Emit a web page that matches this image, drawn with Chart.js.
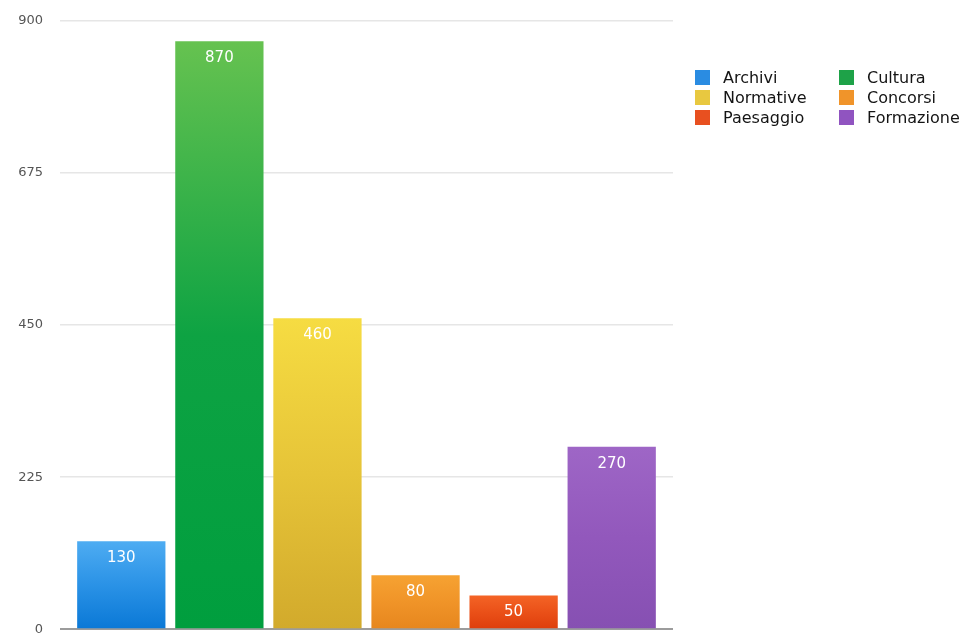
<!DOCTYPE html>
<html>
<head>
<meta charset="utf-8">
<title>Categorie</title>
<script src="https://cdn.jsdelivr.net/npm/chart.js@4/dist/chart.umd.min.js"></script>
<style>
  html, body { margin: 0; padding: 0; background: #ffffff; overflow: hidden; }
  #wrap { position: relative; width: 970px; height: 637px; }
  #chart { position: absolute; left: 0; top: 0; }
  #legend {
    position: absolute; left: 695px; top: 67px;
    display: grid; grid-template-columns: 144px 130px; grid-auto-rows: 20px;
    font-family: "DejaVu Sans", sans-serif; font-size: 16px; color: #141414;
  }
  .item { display: flex; align-items: center; white-space: nowrap; }
  .swatch { width: 15px; height: 15px; margin-right: 13px; flex: none; }
</style>
</head>
<body>
<div id="wrap">
  <canvas id="chart" width="970" height="637"></canvas>
  <div id="legend"></div>
</div>
<script>
// Categories and their counts
const categories = ['Archivi', 'Cultura', 'Normative', 'Concorsi', 'Paesaggio', 'Formazione'];
const values = [130, 870, 460, 80, 50, 270];
const yTicks = [0, 225, 450, 675, 900];

// Gradient stops per category (top of bar -> middle -> bottom of bar)
const gradients = [
  ['#4eacf2', '#2a92e6', '#0a78d6'],
  ['#66c250', '#0ea343', '#009e3e'],
  ['#f6dc42', '#e6c438', '#d2aa2c'],
  ['#f6a232', '#f09428', '#e6861e'],
  ['#f46426', '#ea5018', '#de3e0c'],
  ['#9e66c6', '#9258bc', '#8650b2']
];
const swatchColors = ['#2a8ce2', '#1ea248', '#e8c840', '#f0942a', '#e85020', '#9054c0'];

function barFill(ctx) {
  const stops = gradients[ctx.datasetIndex];
  const chart = ctx.chart;
  if (!chart.chartArea || ctx.raw === undefined) return stops[1];
  const y = chart.scales.y;
  const top = y.getPixelForValue(ctx.raw);
  const bottom = y.getPixelForValue(0);
  const g = chart.ctx.createLinearGradient(0, top, 0, bottom);
  g.addColorStop(0, stops[0]);
  g.addColorStop(0.5, stops[1]);
  g.addColorStop(1, stops[2]);
  return g;
}

const datasets = categories.map((name, i) => ({
  label: name,
  data: [values[i]],
  backgroundColor: barFill,
  borderWidth: 0,
  categoryPercentage: 0.96,
  barPercentage: 0.9
}));

// White value labels just inside the top of each bar
const valueLabels = {
  id: 'valueLabels',
  afterDatasetsDraw(chart) {
    const c = chart.ctx;
    c.save();
    c.fillStyle = '#ffffff';
    c.font = '15px "DejaVu Sans", sans-serif';
    c.textAlign = 'center';
    c.textBaseline = 'middle';
    chart.data.datasets.forEach((ds, i) => {
      chart.getDatasetMeta(i).data.forEach((el, j) => {
        c.fillText(String(ds.data[j]), el.x, el.y + 17);
      });
    });
    c.restore();
  }
};

const chart = new Chart(document.getElementById('chart'), {
  type: 'bar',
  data: { labels: [''], datasets },
  options: {
    responsive: false,
    animation: false,
    layout: { padding: { left: 0, top: 21, right: 297, bottom: 7 } },
    plugins: { legend: { display: false }, tooltip: { enabled: false } },
    scales: {
      x: {
        grid: { display: false, drawTicks: false },
        border: { display: false },
        ticks: { display: false },
        afterFit(scale) { scale.height = 0; }
      },
      y: {
        min: 0,
        max: 900,
        afterBuildTicks(scale) { scale.ticks = yTicks.map(v => ({ value: v })); },
        afterFit(scale) { scale.width = 60; },
        border: { display: false },
        grid: {
          drawTicks: true,
          tickLength: 17,
          tickColor: 'rgba(0,0,0,0)',
          color: c => (c.tick && c.tick.value === 0) ? '#9c9c9c' : '#e6e6e6',
          lineWidth: c => (c.tick && c.tick.value === 0) ? 2 : 1.5
        },
        ticks: {
          padding: 0,
          color: '#555555',
          font: { family: '"DejaVu Sans", sans-serif', size: 13 }
        }
      }
    }
  },
  plugins: [valueLabels]
});

// Two-column legend
const legend = document.getElementById('legend');
categories.forEach((name, i) => {
  const item = document.createElement('div');
  item.className = 'item';
  const sw = document.createElement('span');
  sw.className = 'swatch';
  sw.style.background = swatchColors[i];
  const txt = document.createElement('span');
  txt.textContent = name;
  item.appendChild(sw);
  item.appendChild(txt);
  legend.appendChild(item);
});
</script>
</body>
</html>
